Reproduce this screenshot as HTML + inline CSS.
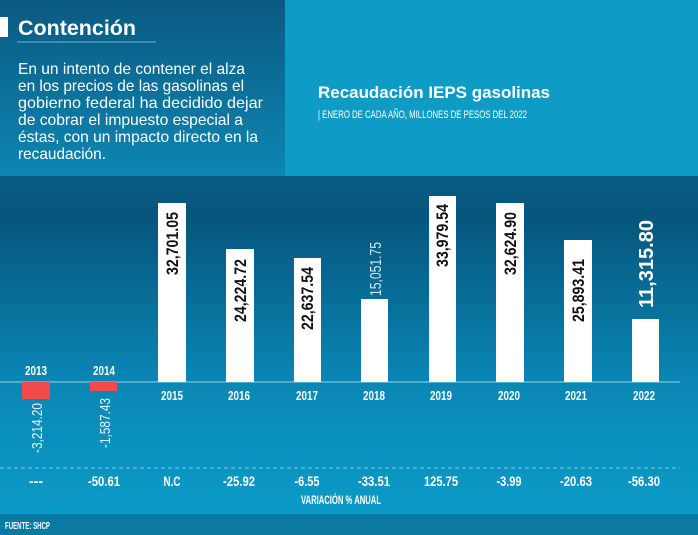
<!DOCTYPE html>
<html><head><meta charset="utf-8"><style>
html,body{margin:0;padding:0;width:698px;height:535px;overflow:hidden;background:#0a6f9a}
svg{display:block}
</style></head><body>
<svg width="698" height="535" viewBox="0 0 698 535" xmlns="http://www.w3.org/2000/svg" font-family="'Liberation Sans',sans-serif">
<defs>
<linearGradient id="lp" x1="0" y1="0" x2="0" y2="1"><stop offset="0" stop-color="#0a5a82"/><stop offset="1" stop-color="#0c86b2"/></linearGradient>
<linearGradient id="ch" x1="0" y1="0" x2="0" y2="1"><stop offset="0" stop-color="#0a5c84"/><stop offset="0.12" stop-color="#06557c"/><stop offset="0.6" stop-color="#0a86b4"/><stop offset="1" stop-color="#0b9bc8"/></linearGradient>
</defs>
<rect x="0" y="0" width="698" height="178" fill="#0e9cc6"/>
<rect x="0" y="0" width="285" height="176" fill="url(#lp)"/>
<rect x="0" y="176" width="698" height="339" fill="url(#ch)"/>
<rect x="0" y="514" width="698" height="21" fill="#0a7aa2"/>
<rect x="0" y="17" width="8" height="20" fill="#fff"/>
<text x="18" y="35" font-weight="bold" font-size="21" fill="#fff" textLength="118" lengthAdjust="spacingAndGlyphs">Contención</text>
<line x1="17" y1="42" x2="156" y2="42" stroke="#6fb6d3" stroke-width="1"/>
<g font-size="16" fill="#fff">
<text x="18" y="74" textLength="227" lengthAdjust="spacingAndGlyphs">En un intento de contener el alza</text>
<text x="18" y="91" textLength="226" lengthAdjust="spacingAndGlyphs">en los precios de las gasolinas el</text>
<text x="18" y="108" textLength="245" lengthAdjust="spacingAndGlyphs">gobierno federal ha decidido dejar</text>
<text x="18" y="125" textLength="225" lengthAdjust="spacingAndGlyphs">de cobrar el impuesto especial a</text>
<text x="18" y="142" textLength="240" lengthAdjust="spacingAndGlyphs">éstas, con un impacto directo en la</text>
<text x="18" y="159" textLength="88" lengthAdjust="spacingAndGlyphs">recaudación.</text>
</g>
<text x="318" y="98" font-weight="bold" font-size="17" fill="#fff" textLength="232" lengthAdjust="spacingAndGlyphs">Recaudación IEPS gasolinas</text>
<text x="318" y="118" font-size="11" fill="#fff" textLength="209" lengthAdjust="spacingAndGlyphs">| ENERO DE CADA AÑO, MILLONES DE PESOS DEL 2022</text>
<line x1="0" y1="382" x2="680" y2="382" stroke="#8fd6ee" stroke-width="1"/>
<rect x="22" y="382" width="28" height="17" fill="#f04a4a"/>
<rect x="90" y="382" width="27" height="9" fill="#f04a4a"/>
<g fill="#fff">
<rect x="158" y="203" width="28" height="179"/>
<rect x="226" y="249" width="28" height="133"/>
<rect x="294" y="258" width="27" height="124"/>
<rect x="361" y="299" width="27" height="83"/>
<rect x="429" y="196" width="27" height="186"/>
<rect x="496" y="203" width="28" height="179"/>
<rect x="564" y="240" width="28" height="142"/>
<rect x="632" y="319" width="27" height="63"/>
</g>
<g font-weight="bold" font-size="17" fill="#111">
<text transform="translate(178,275) rotate(-90)" textLength="63" lengthAdjust="spacingAndGlyphs">32,701.05</text>
<text transform="translate(246,322) rotate(-90)" textLength="63" lengthAdjust="spacingAndGlyphs">24,224.72</text>
<text transform="translate(313,330) rotate(-90)" textLength="63" lengthAdjust="spacingAndGlyphs">22,637.54</text>
<text transform="translate(448,267) rotate(-90)" textLength="63" lengthAdjust="spacingAndGlyphs">33,979.54</text>
<text transform="translate(516,275) rotate(-90)" textLength="63" lengthAdjust="spacingAndGlyphs">32,624.90</text>
<text transform="translate(584,322) rotate(-90)" textLength="63" lengthAdjust="spacingAndGlyphs">25,893.41</text>
</g>
<text transform="translate(381,296) rotate(-90)" font-size="16" fill="#cdeaf6" textLength="54" lengthAdjust="spacingAndGlyphs">15,051.75</text>
<text transform="translate(653,308) rotate(-90)" font-weight="bold" font-size="20" fill="#fff" textLength="88" lengthAdjust="spacingAndGlyphs">11,315.80</text>
<g font-size="15" fill="#e9f6fb">
<text transform="translate(42,453) rotate(-90)" textLength="50" lengthAdjust="spacingAndGlyphs">-3,214.20</text>
<text transform="translate(110,448) rotate(-90)" textLength="50" lengthAdjust="spacingAndGlyphs">-1,587.43</text>
</g>
<g font-size="13" fill="#fff" text-anchor="middle" font-weight="bold">
<text x="36" y="375" textLength="22" lengthAdjust="spacingAndGlyphs">2013</text><text x="104" y="375" textLength="22" lengthAdjust="spacingAndGlyphs">2014</text>
<text x="172" y="400" textLength="22" lengthAdjust="spacingAndGlyphs">2015</text><text x="239" y="400" textLength="22" lengthAdjust="spacingAndGlyphs">2016</text><text x="307" y="400" textLength="22" lengthAdjust="spacingAndGlyphs">2017</text><text x="374" y="400" textLength="22" lengthAdjust="spacingAndGlyphs">2018</text><text x="441" y="400" textLength="22" lengthAdjust="spacingAndGlyphs">2019</text><text x="509" y="400" textLength="22" lengthAdjust="spacingAndGlyphs">2020</text><text x="576" y="400" textLength="22" lengthAdjust="spacingAndGlyphs">2021</text><text x="644" y="400" textLength="22" lengthAdjust="spacingAndGlyphs">2022</text>
</g>
<line x1="0" y1="468" x2="680" y2="468" stroke="#7ccbe6" stroke-width="1" stroke-dasharray="4,3"/>
<g font-size="14" fill="#fff" text-anchor="middle" font-weight="bold">
<text x="36" y="486">---</text><text x="104" y="486" textLength="32" lengthAdjust="spacingAndGlyphs">-50.61</text><text x="172" y="486" textLength="17" lengthAdjust="spacingAndGlyphs">N.C</text><text x="239" y="486" textLength="32" lengthAdjust="spacingAndGlyphs">-25.92</text><text x="307" y="486" textLength="25" lengthAdjust="spacingAndGlyphs">-6.55</text><text x="374" y="486" textLength="32" lengthAdjust="spacingAndGlyphs">-33.51</text><text x="441" y="486" textLength="34" lengthAdjust="spacingAndGlyphs">125.75</text><text x="509" y="486" textLength="25" lengthAdjust="spacingAndGlyphs">-3.99</text><text x="576" y="486" textLength="32" lengthAdjust="spacingAndGlyphs">-20.63</text><text x="644" y="486" textLength="32" lengthAdjust="spacingAndGlyphs">-56.30</text>
</g>
<text x="341" y="504" font-size="12" fill="#fff" text-anchor="middle" font-weight="bold" textLength="80" lengthAdjust="spacingAndGlyphs">VARIACIÓN % ANUAL</text>
<text x="5" y="529" font-size="10" fill="#fff" font-weight="bold" textLength="45" lengthAdjust="spacingAndGlyphs">FUENTE: SHCP</text>
</svg>
</body></html>
